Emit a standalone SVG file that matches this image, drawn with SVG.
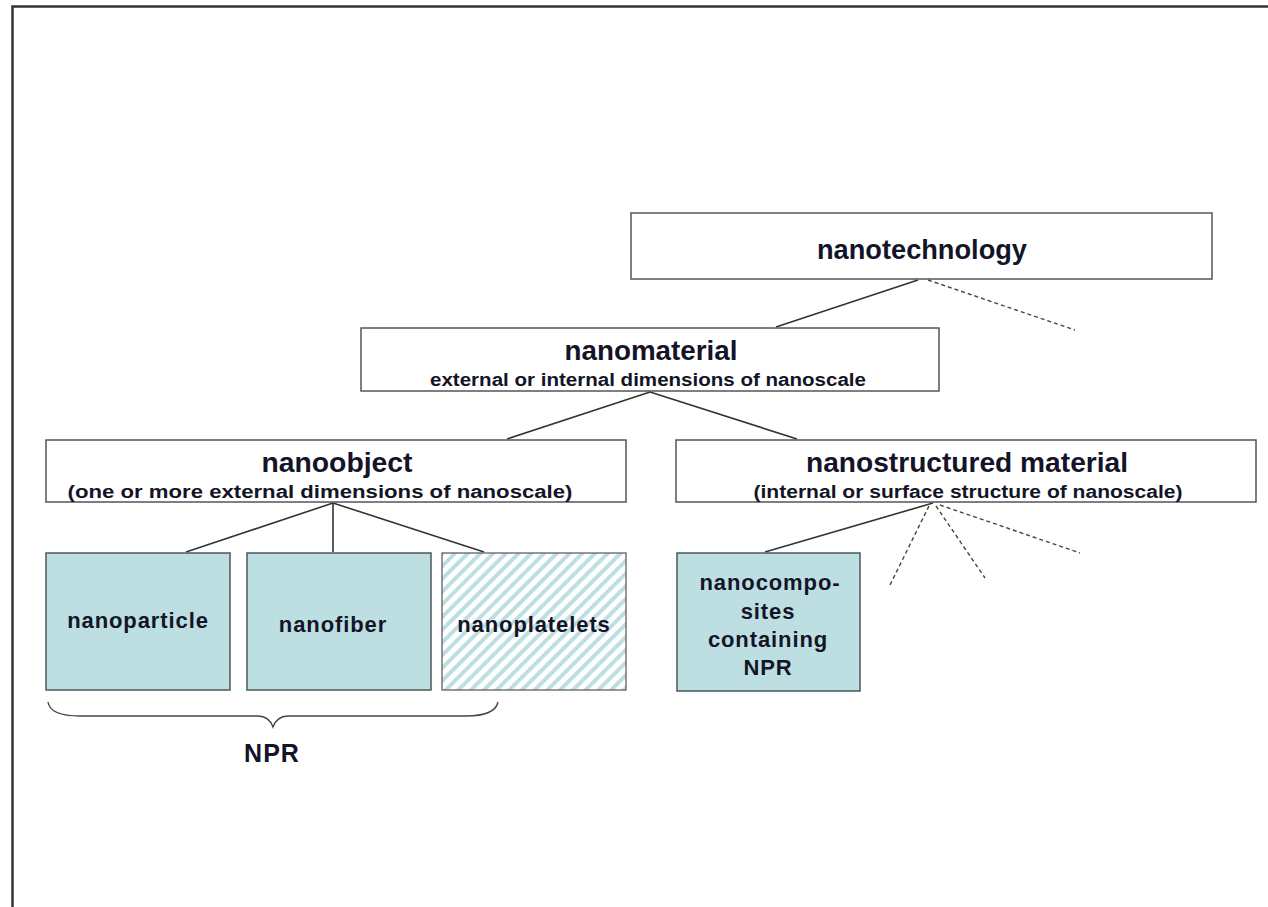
<svg xmlns="http://www.w3.org/2000/svg" width="1268" height="907" viewBox="0 0 1268 907">
<defs>
<style>
.box{fill:#fff;stroke:#555;stroke-width:1.5}
.tile{fill:#bddfe1;stroke:#4a5a5a;stroke-width:1.5}
.t{font-family:"Liberation Sans",Arial,sans-serif;font-weight:bold;fill:#141428;text-anchor:middle}
.big{font-size:27px}
.small{font-size:18px}
.lab{font-size:22px;letter-spacing:0.9px}
.ln{stroke:#333;stroke-width:1.6;fill:none}
.dash{stroke:#444;stroke-width:1.4;fill:none;stroke-dasharray:4 3}
</style>
<pattern id="hatch" patternUnits="userSpaceOnUse" width="9" height="9" patternTransform="rotate(45)">
<rect width="9" height="9" fill="#fff"/>
<rect x="0" y="0" width="4" height="9" fill="#bddfe1"/>
</pattern>
</defs>
<rect width="1268" height="907" fill="#fff"/>
<path d="M12.5 907 V6.5 H1268" fill="none" stroke="#333" stroke-width="2.5"/>

<g id="connectors">
<line class="ln" x1="918" y1="280" x2="776" y2="327"/>
<line class="dash" x1="928" y1="280" x2="1075" y2="330"/>
<line class="ln" x1="650" y1="392" x2="507" y2="439"/>
<line class="ln" x1="650" y1="392" x2="797" y2="439"/>
<line class="ln" x1="333" y1="503" x2="186" y2="552"/>
<line class="ln" x1="333" y1="503" x2="333" y2="552"/>
<line class="ln" x1="333" y1="503" x2="484" y2="552"/>
<line class="ln" x1="933" y1="503" x2="765" y2="552"/>
<line class="dash" x1="929" y1="506" x2="890" y2="585"/>
<line class="dash" x1="936" y1="506" x2="985" y2="578"/>
<line class="dash" x1="940" y1="505" x2="1080" y2="553"/>
</g>

<g id="nanotechnology">
<rect class="box" x="631" y="213" width="581" height="66"/>
<text class="t big" x="922" y="259" textLength="210" lengthAdjust="spacingAndGlyphs">nanotechnology</text>
</g>

<g id="nanomaterial">
<rect class="box" x="361" y="328" width="578" height="63"/>
<text class="t big" x="651" y="360" textLength="173" lengthAdjust="spacingAndGlyphs">nanomaterial</text>
<text class="t small" x="648" y="386" textLength="436" lengthAdjust="spacingAndGlyphs">external or internal dimensions of nanoscale</text>
</g>

<g id="nanoobject">
<rect class="box" x="46" y="440" width="580" height="62"/>
<text class="t big" x="337" y="472" textLength="151" lengthAdjust="spacingAndGlyphs">nanoobject</text>
<text class="t small" x="320" y="498" textLength="505" lengthAdjust="spacingAndGlyphs">(one or more external dimensions of nanoscale)</text>
</g>

<g id="nanostructured">
<rect class="box" x="676" y="440" width="580" height="62"/>
<text class="t big" x="967" y="472" textLength="322" lengthAdjust="spacingAndGlyphs">nanostructured material</text>
<text class="t small" x="968" y="498" textLength="429" lengthAdjust="spacingAndGlyphs">(internal or surface structure of nanoscale)</text>
</g>

<g id="nanoparticle">
<rect class="tile" x="46" y="553" width="184" height="137"/>
<text class="t lab" x="138" y="628">nanoparticle</text>
</g>

<g id="nanofiber">
<rect class="tile" x="247" y="553" width="184" height="137"/>
<text class="t lab" x="333" y="632">nanofiber</text>
</g>

<g id="nanoplatelets">
<rect x="442" y="553" width="184" height="137" fill="url(#hatch)" stroke="#555" stroke-width="1.2"/>
<text class="t lab" x="534" y="632">nanoplatelets</text>
</g>

<g id="nanocomposites">
<rect class="tile" x="677" y="553" width="183" height="138"/>
<text class="t lab" x="770" y="590">nanocompo-</text>
<text class="t lab" x="768" y="619">sites</text>
<text class="t lab" x="768" y="647">containing</text>
<text class="t lab" x="768" y="675">NPR</text>
</g>

<g id="npr-brace">
<path d="M48 702 Q50 716 80 716 H258 Q269 716 273 727 Q277 716 288 716 H466 Q495 716 498 702" fill="none" stroke="#444" stroke-width="1.4"/>
<text class="t" font-size="25" letter-spacing="1" x="272" y="762">NPR</text>
</g>
</svg>
